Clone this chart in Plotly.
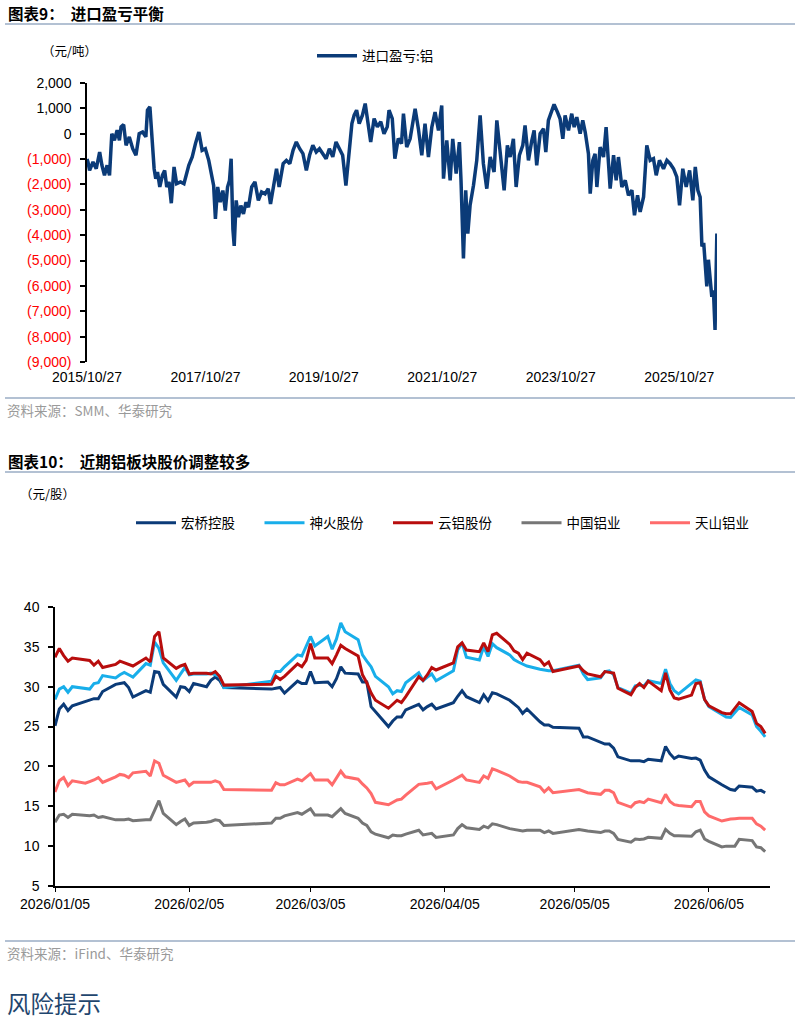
import plotly.graph_objects as go

# ---------------- data: chart 9 (import profit/loss, aluminium) ----------------
imp_dates = [
    "2015-10-27", "2015-11-02", "2015-11-12", "2015-12-03", "2015-12-23", "2016-01-13", "2016-01-27",
    "2016-02-12", "2016-02-28", "2016-03-14", "2016-03-28", "2016-04-13", "2016-04-30", "2016-05-14",
    "2016-05-24", "2016-06-09", "2016-06-24", "2016-07-14", "2016-08-04", "2016-08-24", "2016-09-13",
    "2016-10-04", "2016-10-24", "2016-11-03", "2016-11-18", "2016-11-28", "2016-12-14", "2016-12-24",
    "2017-01-04", "2017-01-18", "2017-02-03", "2017-02-17", "2017-03-02", "2017-03-16", "2017-03-30",
    "2017-04-16", "2017-05-02", "2017-05-26", "2017-06-16", "2017-07-16", "2017-08-06", "2017-08-26",
    "2017-09-16", "2017-10-06", "2017-10-26", "2017-11-16", "2017-12-06", "2017-12-16", "2017-12-27",
    "2018-01-10", "2018-01-26", "2018-02-11", "2018-02-26", "2018-03-12", "2018-03-24", "2018-04-03",
    "2018-04-14", "2018-04-22", "2018-05-04", "2018-05-18", "2018-06-02", "2018-06-18", "2018-07-04",
    "2018-07-19", "2018-08-08", "2018-08-28", "2018-09-18", "2018-10-08", "2018-10-29", "2018-11-18",
    "2018-12-02", "2018-12-19", "2019-01-08", "2019-01-24", "2019-02-18", "2019-03-10", "2019-03-31",
    "2019-04-20", "2019-05-10", "2019-05-31", "2019-06-20", "2019-07-11", "2019-07-31", "2019-08-20",
    "2019-09-10", "2019-09-30", "2019-10-21", "2019-11-10", "2019-11-30", "2019-12-21", "2020-01-10",
    "2020-01-31", "2020-02-20", "2020-03-11", "2020-04-01", "2020-04-17", "2020-05-01", "2020-05-16",
    "2020-06-01", "2020-06-21", "2020-07-08", "2020-07-22", "2020-08-11", "2020-09-01", "2020-09-21",
    "2020-10-12", "2020-11-01", "2020-11-21", "2020-12-02", "2020-12-22", "2021-01-07", "2021-01-28",
    "2021-02-17", "2021-03-01", "2021-03-21", "2021-04-11", "2021-05-12", "2021-06-01", "2021-06-22",
    "2021-07-12", "2021-08-02", "2021-08-23", "2021-09-12", "2021-10-03", "2021-10-23", "2021-11-03",
    "2021-11-23", "2021-12-14", "2021-12-30", "2022-01-20", "2022-02-09", "2022-02-19", "2022-03-06",
    "2022-03-20", "2022-04-02", "2022-04-16", "2022-05-07", "2022-05-27", "2022-06-17", "2022-07-07",
    "2022-07-28", "2022-08-18", "2022-09-11", "2022-09-28", "2022-10-18", "2022-11-12", "2022-12-02",
    "2022-12-19", "2023-01-08", "2023-01-25", "2023-02-14", "2023-03-07", "2023-03-21", "2023-04-11",
    "2023-05-02", "2023-05-16", "2023-06-01", "2023-06-22", "2023-07-13", "2023-07-27", "2023-08-12",
    "2023-09-02", "2023-09-16", "2023-10-07", "2023-10-23", "2023-11-09", "2023-11-23", "2023-12-14",
    "2024-01-03", "2024-01-18", "2024-02-03", "2024-02-24", "2024-03-11", "2024-03-26", "2024-04-15",
    "2024-04-26", "2024-05-12", "2024-05-26", "2024-06-06", "2024-06-26", "2024-07-17", "2024-08-02",
    "2024-08-17", "2024-08-27", "2024-09-17", "2024-10-03", "2024-10-17", "2024-11-07", "2024-11-28",
    "2024-12-18", "2025-01-08", "2025-01-24", "2025-02-12", "2025-02-28", "2025-03-21", "2025-04-10",
    "2025-05-01", "2025-05-21", "2025-06-07", "2025-06-27", "2025-07-22", "2025-08-12", "2025-09-01",
    "2025-09-22", "2025-10-12", "2025-10-29", "2025-11-18", "2025-12-09", "2025-12-30", "2026-01-19",
    "2026-02-03", "2026-02-19", "2026-03-05", "2026-03-16", "2026-03-27", "2026-04-09", "2026-04-15",
    "2026-04-25", "2026-05-06", "2026-05-16", "2026-05-26", "2026-06-05", "2026-06-16",
]
imp_values = [
    -1000, -1115, -1445, -1115, -1380, -720, -1245,
    -1640, -1245, -1640, 0, -260, 140, -260,
    270, 360, -455, -125, -590, -850, 0,
    70, -125, 930, 1060, 70, -1380, -1775,
    -1510, -2100, -1640, -1445, -2100, -1900, -2740,
    -1310, -1970, -1900, -1970, -1245, -915, -390,
    70, -655, -590, -1050, -1710, -2040, -3360,
    -2100, -2700, -2240, -3030, -2100, -1840, -985,
    -3760, -4420, -2630, -3290, -2830, -3160, -2700,
    -2900, -2100, -1900, -2630, -2300, -2370, -2170,
    -2770, -2100, -1380, -2100, -1180, -1050, -1180,
    -655, -325, -590, -785, -1445, -850, -455,
    -720, -590, -785, -985, -590, -915, -325,
    -590, -850, -2040, -590, 400, 730, 930,
    400, 730, 1190, 470, -325, 600, 270,
    470, 0, 270, 930, 600, -985, -190,
    -390, 790, -525, -200, 985, 200, -850,
    395, -920, 260, 850, 130, 1115, -1770,
    -260, -1840, -200, -1575, -330, -1840, -4920,
    -2230, -3940, -2820, -2030, -1050, 720, -1180,
    -2165, -920, -1510, 525, -720, -2230, -460,
    -920, -200, -2100, -850, -460, 330, -1050,
    -260, 130, -1245, 0, 200, -720, 525,
    850, 1155, 850, 590, -200, 720, 130,
    790, 260, 655, 0, 525, 65, -790,
    -2360, -1050, -790, -2100, -525, -920, 260,
    -1115, -2165, -850, -1840, -920, -2100, -1840,
    -2430, -2230, -3215, -2430, -3085, -2495, -460,
    -1050, -985, -1640, -1050, -1380, -1050, -1180,
    -1380, -1705, -2820, -1380, -2100, -1445, -2625,
    -1310, -2230, -2500, -4440, -4300, -5360, -6020,
    -4970, -5640, -6430, -6180, -7740, -3930,
]
imp_yticks = [2000, 1000, 0, -1000, -2000, -3000, -4000, -5000, -6000, -7000, -8000, -9000]
imp_xticks = ["2015-10-27", "2017-10-27", "2019-10-27", "2021-10-27", "2023-10-27", "2025-10-27"]
imp_xtick_text = ["2015/10/27", "2017/10/27", "2019/10/27", "2021/10/27", "2023/10/27", "2025/10/27"]

# ---------------- data: chart 10 (share prices) ----------------
trade_dates = [
    "2026-01-05", "2026-01-06", "2026-01-07", "2026-01-08", "2026-01-09", "2026-01-12", "2026-01-13",
    "2026-01-14", "2026-01-15", "2026-01-16", "2026-01-19", "2026-01-20", "2026-01-21", "2026-01-22",
    "2026-01-23", "2026-01-26", "2026-01-27", "2026-01-28", "2026-01-29", "2026-01-30",
    "2026-02-02", "2026-02-03", "2026-02-04", "2026-02-05", "2026-02-06", "2026-02-09", "2026-02-10",
    "2026-02-11", "2026-02-12", "2026-02-13", "2026-02-24", "2026-02-25", "2026-02-26", "2026-02-27",
    "2026-03-02", "2026-03-03", "2026-03-04", "2026-03-05", "2026-03-06", "2026-03-09", "2026-03-10",
    "2026-03-11", "2026-03-12", "2026-03-13", "2026-03-16", "2026-03-17", "2026-03-18", "2026-03-19",
    "2026-03-20", "2026-03-23", "2026-03-24", "2026-03-25", "2026-03-26", "2026-03-27", "2026-03-30",
    "2026-03-31",
    "2026-04-01", "2026-04-02", "2026-04-03", "2026-04-07", "2026-04-08", "2026-04-09", "2026-04-10",
    "2026-04-13", "2026-04-14", "2026-04-15", "2026-04-16", "2026-04-17", "2026-04-20", "2026-04-21",
    "2026-04-22", "2026-04-23", "2026-04-24", "2026-04-27", "2026-04-28", "2026-04-29", "2026-04-30",
    "2026-05-06", "2026-05-07", "2026-05-08", "2026-05-11", "2026-05-12", "2026-05-13", "2026-05-14",
    "2026-05-15", "2026-05-18", "2026-05-19", "2026-05-20", "2026-05-21", "2026-05-22", "2026-05-25",
    "2026-05-26", "2026-05-27", "2026-05-28", "2026-05-29",
    "2026-06-01", "2026-06-02", "2026-06-03", "2026-06-04", "2026-06-05", "2026-06-08", "2026-06-09",
    "2026-06-10", "2026-06-11", "2026-06-12", "2026-06-15", "2026-06-16", "2026-06-17", "2026-06-18",
]
hongqiao = [
    25.1, 27.2, 27.8, 27.0, 27.6, 28.1, 28.3, 28.5, 28.5, 29.4, 30.3, 30.4, 30.5, 29.9, 28.7, 29.5, 29.3, 31.9, 31.8, 30.3,
    28.7, 30.0, 29.9, 29.4, 30.4, 30.0, 30.8, 31.2, 30.8, 29.9, 29.7, 29.8, 29.9, 29.2,
    30.7, 30.4, 30.4, 31.9, 30.5, 30.6, 30.0, 31.0, 32.5, 31.7, 31.6, 30.6, 30.6, 27.5, 26.9, 25.0, 25.7, 26.2, 26.2, 27.1, 27.8, 27.1,
    27.5, 27.8, 27.2, 28.0, 28.8, 29.5, 28.75, 28.0, 29.0, 28.25, 29.25, 29.1, 28.3, 27.9, 27.4, 26.65, 27.2, 25.6, 25.2, 25.2, 24.9,
    24.8, 23.7, 23.7, 23.1, 22.8, 22.8, 22.3, 21.2, 20.7, 20.7, 20.7, 20.6, 20.9, 20.7, 22.5, 21.6, 21.0, 21.3,
    21.0, 21.05, 20.8, 19.55, 18.7, 17.7, 17.4, 17.1, 17.0, 17.55, 17.4, 16.9, 17.0, 16.7,
]
shenhuo = [
    28.4, 29.7, 30.0, 29.3, 30.0, 29.8, 29.7, 30.4, 30.5, 31.4, 31.1, 31.5, 31.8, 31.5, 31.2, 32.9, 32.7, 35.6, 34.8, 33.0,
    30.8, 31.6, 32.4, 31.5, 31.6, 31.6, 31.7, 31.5, 31.3, 29.9, 30.7, 31.9, 31.9, 32.5,
    34.0, 33.85, 35.0, 36.3, 35.1, 36.3, 34.7, 36.0, 38.0, 36.9, 35.9, 34.0, 33.2, 32.5, 31.3, 30.0, 29.1, 29.5, 29.4, 30.5, 31.75, 30.75,
    31.2, 31.6, 30.75, 32.0, 34.6, 35.5, 33.7, 33.35, 35.0, 33.8, 35.4, 34.9, 34.0, 33.4, 33.1, 32.85, 32.6, 32.2, 32.1, 32.0, 32.0,
    32.7, 31.6, 30.9, 31.1, 31.9, 32.0, 31.5, 29.9, 29.2, 30.1, 30.2, 30.1, 30.75, 30.4, 32.2, 30.4, 29.5, 29.1,
    30.5, 30.85, 30.7, 28.4, 27.5, 26.5, 26.2, 26.15, 26.8, 27.4, 26.45, 25.0, 24.4, 23.7,
]
yunlv = [
    33.7, 34.8, 33.9, 33.2, 33.6, 33.4, 33.3, 32.7, 33.2, 32.4, 32.8, 33.2, 33.0, 32.7, 32.6, 33.6, 33.1, 36.3, 36.9, 33.6,
    32.3, 32.6, 32.8, 31.6, 31.7, 31.7, 31.6, 31.9, 31.3, 30.2, 30.3, 31.3, 30.9, 31.3,
    32.85, 32.5, 33.3, 35.4, 33.6, 33.6, 32.9, 34.0, 35.2, 34.8, 33.85, 31.5, 30.5, 29.2, 28.3, 27.3, 27.8, 28.3, 28.0, 28.75, 31.25, 30.8,
    31.5, 32.4, 32.1, 33.0, 35.0, 35.5, 34.6, 34.4, 35.5, 34.4, 36.5, 36.7, 35.3, 34.5, 34.2, 33.4, 34.2, 33.4, 32.7, 33.1, 31.9,
    32.6, 32.0, 31.6, 31.25, 31.9, 31.8, 31.7, 29.8, 29.0, 29.9, 30.4, 29.9, 30.7, 29.5, 31.75, 29.6, 28.6, 28.45,
    28.95, 30.4, 30.5, 28.4, 27.6, 26.75, 26.6, 26.6, 27.3, 28.0, 26.9, 25.4, 25.0, 24.15,
]
chalco = [
    13.0, 13.9, 14.0, 13.6, 14.0, 13.9, 13.8, 13.9, 13.6, 13.7, 13.3, 13.3, 13.3, 13.4, 13.2, 13.3, 13.3, 14.5, 15.7, 14.1,
    12.7, 13.1, 13.4, 12.6, 12.9, 13.0, 13.1, 13.3, 13.2, 12.6, 12.9, 13.5, 13.5, 13.8,
    14.2, 14.0, 14.3, 14.7, 13.9, 13.9, 13.7, 14.2, 14.7, 14.1, 13.5, 12.9, 12.6, 11.8, 11.5, 11.05, 11.4, 11.3, 11.3, 11.5, 12.0, 11.4,
    11.5, 11.6, 11.1, 11.4, 12.2, 12.7, 12.3, 12.1, 12.5, 12.3, 12.8, 12.7, 12.2, 12.1, 12.0, 11.9, 12.0, 12.0, 11.7, 11.9, 11.6,
    12.1, 12.0, 11.9, 11.7, 11.9, 11.9, 11.6, 10.85, 10.5, 10.9, 10.85, 10.9, 11.1, 10.98, 12.1, 11.6, 11.3, 11.3,
    11.25, 11.8, 12.0, 10.9, 10.6, 9.9, 10.0, 10.0, 10.0, 10.85, 10.7, 9.9, 9.8, 9.3,
]
tianshan = [
    16.8, 18.2, 18.6, 17.6, 18.2, 17.9, 18.1, 18.3, 18.6, 18.0, 18.7, 19.0, 18.9, 18.6, 19.2, 19.4, 18.8, 20.7, 20.4, 18.9,
    18.0, 18.2, 18.3, 17.6, 18.0, 18.0, 18.0, 18.2, 18.0, 17.1, 17.0, 17.95, 17.7, 17.7,
    18.4, 18.2, 18.6, 19.1, 18.3, 18.3, 17.7, 18.6, 19.4, 18.7, 18.4, 17.8, 17.3, 16.6, 15.5, 15.2, 15.5, 15.8, 15.9, 16.4, 17.75, 17.8,
    17.9, 18.0, 17.2, 18.3, 18.6, 18.9, 18.3, 18.0, 18.8, 18.5, 19.7, 19.5, 18.8, 18.5, 18.1, 18.0, 18.0, 17.45, 16.8, 17.3, 16.7,
    17.1, 16.9, 16.7, 16.5, 17.0, 17.0, 16.7, 15.5, 14.9, 15.45, 15.6, 15.45, 15.9, 15.45, 16.5, 15.6, 15.2, 15.1,
    14.95, 15.6, 15.6, 14.3, 13.8, 13.15, 13.3, 13.4, 13.45, 13.5, 13.5, 12.8, 12.5, 12.0,
]
stock_names = ["宏桥控股", "神火股份", "云铝股份", "中国铝业", "天山铝业"]
stock_series = [hongqiao, shenhuo, yunlv, chalco, tianshan]
stock_colors = ["#0B3B78", "#18AEEA", "#B80D0D", "#767676", "#FF6B6B"]
px_xticks = ["2026-01-05", "2026-02-05", "2026-03-05", "2026-04-05", "2026-05-05", "2026-06-05"]
px_xtick_text = ["2026/01/05", "2026/02/05", "2026/03/05", "2026/04/05", "2026/05/05", "2026/06/05"]

# ---------------- page geometry ----------------
W, H = 803, 1019
def fx(p): return p / W
def fy(p): return 1 - p / H

CJK = "Noto Sans CJK SC"
NUM = "Liberation Sans, Arial, sans-serif"

def fmt_tick(v):
    if v < 0:
        return '<span style="color:#FF0000">(%s)</span>' % format(-v, ",")
    return format(v, ",")

fig = go.Figure()

fig.add_trace(go.Scatter(
    x=imp_dates, y=imp_values, mode="lines", name="进口盈亏:铝",
    line=dict(color="#0B3B78", width=3.5), xaxis="x", yaxis="y", legend="legend",
))
for name, vals, col in zip(stock_names, stock_series, stock_colors):
    fig.add_trace(go.Scatter(
        x=trade_dates, y=vals, mode="lines", name=name,
        line=dict(color=col, width=3), xaxis="x2", yaxis="y2", legend="legend2",
    ))

top_dom_y = [fy(362), fy(83)]
top_range = [-9000, 2000]
zero_pos = top_dom_y[0] + (0 - top_range[0]) / (top_range[1] - top_range[0]) * (top_dom_y[1] - top_dom_y[0])

axis_font = dict(family=NUM, size=14, color="#000000")

fig.update_layout(
    width=W, height=H, autosize=False,
    margin=dict(l=0, r=0, t=0, b=0, pad=0, autoexpand=False),
    paper_bgcolor="white", plot_bgcolor="white",
    font=dict(family=NUM, size=14, color="#000000"),
    xaxis=dict(
        domain=[fx(87), fx(717)], anchor="y", type="date",
        range=["2015-10-27", "2026-06-17"],
        tickvals=imp_xticks, ticktext=imp_xtick_text,
        showline=False, showgrid=False, zeroline=False, automargin=False,
        ticks="", ticklabelstandoff=5, tickfont=axis_font,
    ),
    xaxis3=dict(
        domain=[fx(87), fx(717)], overlaying="x", anchor="free", position=zero_pos,
        type="date", range=["2015-10-27", "2026-06-17"], tickvals=imp_xticks,
        showticklabels=False, showline=True, linecolor="#000000", linewidth=1.5,
        ticks="outside", ticklen=4, tickwidth=1.2, tickcolor="#000000",
        showgrid=False, zeroline=False, automargin=False,
    ),
    yaxis=dict(
        domain=top_dom_y, anchor="x", range=top_range,
        tickvals=imp_yticks, ticktext=[fmt_tick(v) for v in imp_yticks],
        showline=True, linecolor="#000000", linewidth=1.5,
        ticks="outside", ticklen=5, tickwidth=1.5, tickcolor="#000000",
        showgrid=False, zeroline=False, tickfont=axis_font, ticklabelstandoff=6, automargin=False,
    ),
    xaxis2=dict(
        domain=[fx(55), fx(769.5)], anchor="y2", type="date",
        range=["2026-01-05", "2026-06-19"],
        tickvals=px_xticks, ticktext=px_xtick_text,
        showline=True, linecolor="#000000", linewidth=1.5,
        ticks="outside", ticklen=4, tickwidth=1.2, tickcolor="#000000",
        showgrid=False, zeroline=False, tickfont=axis_font, automargin=False,
    ),
    yaxis2=dict(
        domain=[fy(886), fy(607)], anchor="x2", range=[5, 40], dtick=5, tick0=5,
        showline=True, linecolor="#000000", linewidth=1.5,
        ticks="outside", ticklen=5, tickwidth=1.5, tickcolor="#000000",
        showgrid=False, zeroline=False, tickfont=axis_font, ticklabelstandoff=6, automargin=False,
    ),
    legend=dict(
        orientation="h", x=fx(312), y=fy(56), xanchor="left", yanchor="middle",
        font=dict(family=CJK, size=13.5, color="#000000"), bgcolor="rgba(0,0,0,0)",
        itemwidth=40,
    ),
    legend2=dict(
        orientation="h", x=fx(131), y=fy(523), xanchor="left", yanchor="middle",
        font=dict(family=CJK, size=13.5, color="#000000"), bgcolor="rgba(0,0,0,0)",
        itemwidth=40, entrywidth=73.5, entrywidthmode="pixels",
    ),
    showlegend=True,
)

# section separators
for yy in (24, 398, 472, 941):
    fig.add_shape(type="line", xref="paper", yref="paper", x0=fx(5), x1=fx(795), y0=fy(yy), y1=fy(yy),
                  line=dict(color="#B3C1D3", width=2))

def note(text, x, y, size, color="#000000", family=CJK):
    fig.add_annotation(text=text, xref="paper", yref="paper", x=fx(x), y=fy(y),
                       xanchor="left", yanchor="middle", showarrow=False,
                       font=dict(family=family, size=size, color=color))

note("<b>图表9：  进口盈亏平衡</b>", 6, 13, 15.5)
note("（元/吨）", 40, 51, 12.5)
note("资料来源：SMM、华泰研究", 5, 410, 13.5, "#9A9A9A")
note("<b>图表10：  近期铝板块股价调整较多</b>", 6, 461, 15.5)
note("（元/股）", 18, 493, 12.5)
note("资料来源：iFind、华泰研究", 5, 953, 13.5, "#9A9A9A")
note("风险提示", 5, 1003, 23.5, "#1F466E")

fig.write_html("out.html")
